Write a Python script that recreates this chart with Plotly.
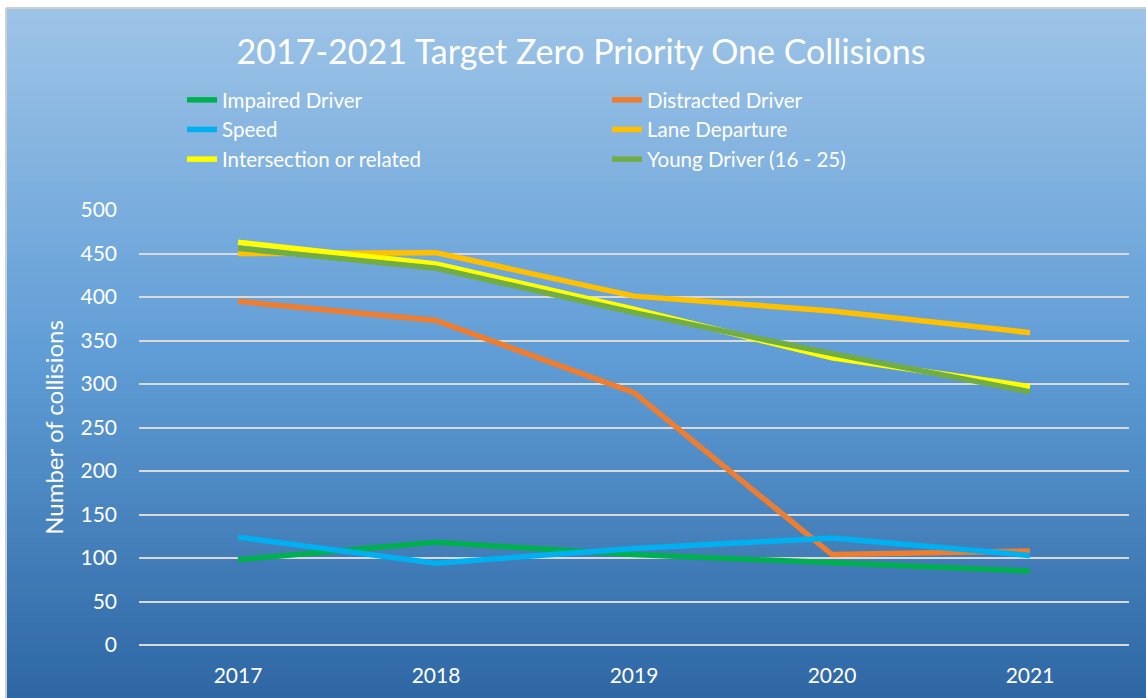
import plotly.graph_objects as go

years = ["2017", "2018", "2019", "2020", "2021"]
impaired = [98, 118, 104, 95, 85]
distracted = [395, 373, 290, 104, 108]
speed = [124, 94, 111, 123, 103]
lane = [450, 451, 401, 384, 359]
intersection = [463, 438, 386, 330, 297]
young = [456, 433, 382, 335, 291]

series = [
    ("Impaired Driver", impaired, "#00B050"),
    ("Distracted Driver", distracted, "#ED7D31"),
    ("Speed", speed, "#00B0F0"),
    ("Lane Departure", lane, "#FFC000"),
    ("Intersection or related", intersection, "#FFFF00"),
    ("Young Driver (16 - 25)", young, "#70AD47"),
]

W, H = 1146, 698
L, R, T, B = 139, 1129, 210, 645

def px2x(px):
    return (px - L) / (R - L)

def py2y(py):
    return (B - py) / (B - T)

fig = go.Figure()
for name, vals, col in series:
    fig.add_trace(go.Scatter(x=years, y=vals, name=name, mode="lines",
                             line=dict(color=col, width=5.5)))

# gradient background
stops = [(0.0, (158, 196, 231)), (0.5, (96, 157, 214)), (1.0, (46, 103, 164))]

def color_at(t):
    for (t0, c0), (t1, c1) in zip(stops[:-1], stops[1:]):
        if t <= t1:
            f = (t - t0) / (t1 - t0)
            return tuple(int(round(a + (b - a) * f)) for a, b in zip(c0, c1))
    return stops[-1][1]

shapes = []
y0p, y1p = 9, H
n = 120
step = (y1p - y0p) / n
for i in range(n):
    top = y0p + i * step
    bot = top + step + 1
    c = color_at((i + 0.5) / n)
    shapes.append(dict(type="rect", xref="paper", yref="paper",
                       x0=px2x(7), x1=px2x(W + 5), y0=py2y(top), y1=py2y(min(bot, H + 2)),
                       fillcolor="rgb(%d,%d,%d)" % c, line=dict(width=0), layer="below"))
# border
shapes.append(dict(type="line", xref="paper", yref="paper", x0=px2x(6), x1=px2x(W + 5),
                   y0=py2y(8), y1=py2y(8), line=dict(color="#D0D0D0", width=2), layer="below"))
shapes.append(dict(type="line", xref="paper", yref="paper", x0=px2x(6), x1=px2x(6),
                   y0=py2y(8), y1=py2y(H + 2), line=dict(color="#D0D0D0", width=2), layer="below"))

FONT = "Lato"
fig.update_layout(
    width=W, height=H,
    margin=dict(l=L, r=W - R, t=T, b=H - B, autoexpand=False),
    paper_bgcolor="white",
    plot_bgcolor="rgba(0,0,0,0)",
    shapes=shapes,
    font=dict(family=FONT, color="white"),
    title=dict(text="2017-2021 Target Zero Priority One Collisions",
               x=581 / W, xanchor="center", y=1 - 52 / H, yanchor="middle",
               font=dict(size=34, color="white", family=FONT)),
    legend=dict(orientation="h", x=px2x(182), xanchor="left", y=py2y(80), yanchor="top",
                entrywidth=380, entrywidthmode="pixels", bgcolor="rgba(0,0,0,0)",
                font=dict(size=20.5, color="white", family=FONT), tracegroupgap=0),
    xaxis=dict(showgrid=False, showline=False, ticks="", zeroline=False,
               range=[-0.5, 4.5], ticklabelstandoff=16,
               tickfont=dict(size=21, color="white"), fixedrange=True),
    yaxis=dict(range=[0, 500], dtick=50, showgrid=True, gridcolor="#D9D9D9", gridwidth=1.5,
               zeroline=True, zerolinecolor="#D9D9D9", zerolinewidth=1.5,
               showline=False, ticks="", ticklabelstandoff=21,
               tickfont=dict(size=21, color="white"),
               title=dict(text="Number of collisions", font=dict(size=24, color="white"), standoff=10),
               fixedrange=True),
    showlegend=True,
)

fig.write_html("out.html", config={"displayModeBar": False},
               post_script="document.body.style.margin='0';document.body.style.overflow='hidden';")
